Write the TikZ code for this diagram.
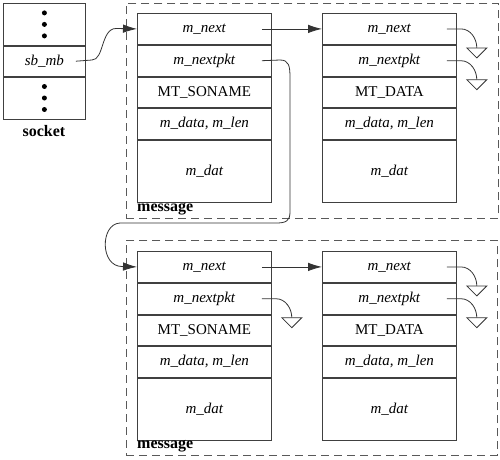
\documentclass[tikz,border=0pt]{standalone}
\usepackage{fontspec}
\setmainfont{Liberation Serif}
\usetikzlibrary{arrows.meta,calc}

\newcommand\msgrows[4]{%
  \node[cell, minimum height=31pt] (#1a) at (#2,#3) {\textit{m\_next}};
  \node[cell, minimum height=31pt] (#1b) at (#1a.south west) {\textit{m\_nextpkt}};
  \node[cell, minimum height=30.5pt] (#1c) at (#1b.south west) {#4};
  \node[cell, minimum height=31pt] (#1d) at (#1c.south west) {\textit{m\_data, m\_len}};
  \node[cell, minimum height=62pt] (#1e) at (#1d.south west) {\textit{m\_dat}};
  \coordinate (#1as) at ([xshift=-10pt]#1a.east);
  \coordinate (#1bs) at ([xshift=-10pt]#1b.east);
}
\newcommand\groundptr[2]{%
  \draw[conn] (#1) -- ++(14,0) .. controls +(10,0) and +(0,-9) .. ++(16,19) coordinate (#2);
  \draw[conn, fill=white] (#2) ++(-10,0) -- ++(20,0) -- ++(-10,10) -- cycle;
}

\begin{document}
\begin{tikzpicture}[x=1pt,y=-1pt,
  cell/.style={draw=black!75, line width=0.8pt, minimum width=134pt, inner sep=0pt,
    anchor=north west, font=\fontsize{15}{17}\selectfont},
  sockcell/.style={cell, minimum width=82pt},
  dashbox/.style={draw=black!65, line width=0.7pt, dash pattern=on 8pt off 5pt,
    anchor=north west, inner sep=0pt},
  lbl/.style={font=\fontsize{16}{18}\selectfont\bfseries, inner sep=0pt},
  conn/.style={draw=black!80, line width=0.8pt},
  arr/.style={conn, -{Latex[length=14pt,width=8.5pt]}},
  dot/.style={fill=black, circle, inner sep=0pt, minimum size=5pt}]
\useasboundingbox (0,0) rectangle (500,459);

% dashed frames
\node[dashbox, minimum width=372pt, minimum height=215pt] (M1) at (126,3) {};
\node[dashbox, minimum width=371pt, minimum height=215pt] (M2) at (126,240) {};

% socket
\node[sockcell, minimum height=42pt] (s1) at (3,3) {};
\node[sockcell, minimum height=30pt] (s2) at (s1.south west) {\textit{sb\_mb}};
\node[sockcell, minimum height=42pt] (s3) at (s2.south west) {};
\foreach \d [count=\i] in {-11.5,0,11.5}{
  \node[dot] (sd\i) at ($(s1.center)+(0,\d)$) {};
  \node[dot] (se\i) at ($(s3.center)+(0,\d)$) {};
}
\node[lbl] (socklbl) at (44,131) {socket};
\coordinate (s2s) at ([xshift=-10pt]s2.east);

% message boxes
\msgrows{A}{137}{13}{MT\_SONAME}
\msgrows{B}{322}{13}{MT\_DATA}
\msgrows{C}{137}{251}{MT\_SONAME}
\msgrows{D}{322}{251}{MT\_DATA}
\node[lbl, anchor=west] (m1lbl) at (137,209) {message};
\node[lbl, anchor=west] (m2lbl) at (137,446) {message};

% connectors
\draw[arr] (s2s) -- (92,60) .. controls (104,60) and (101,28.5) .. (116,28.5) -- (Aa.west);
\draw[arr] (Aas) -- (Ba.west);
\draw[arr] (Cas) -- (Da.west);
\draw[arr] (Abs) -- (280,60) .. controls (289,60) and (290,66) .. (290,78) -- (290,212)
  .. controls (290,221) and (286,223) .. (276,223) -- (120,223)
  .. controls (100,224) and (100,266.5) .. (122,266.5) -- (Ca.west);

% null pointers
\groundptr{Bas}{gB1}
\groundptr{Bbs}{gB2}
\groundptr{Cbs}{gC2}
\groundptr{Das}{gD1}
\groundptr{Dbs}{gD2}
\end{tikzpicture}
\end{document}
